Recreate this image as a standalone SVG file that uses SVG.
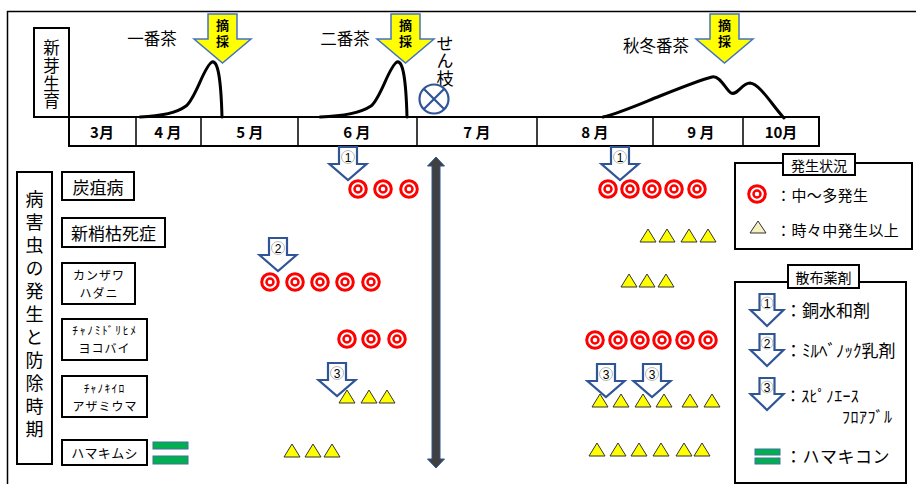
<svg xmlns="http://www.w3.org/2000/svg" xmlns:xlink="http://www.w3.org/1999/xlink" width="916" height="484" viewBox="0 0 916 484">
<style>
text{font-family:"Noto Sans CJK JP","Noto Sans",sans-serif;fill:#000;dominant-baseline:central}
.vt{writing-mode:vertical-rl;text-anchor:middle}
.box{fill:#fff;stroke:#000;stroke-width:2}
.thin{fill:none;stroke:#000;stroke-width:1.5}
.curve{fill:none;stroke:#000;stroke-width:3;stroke-linecap:round}
.yarr{fill:#FFFF00;stroke:#4472C4;stroke-width:1.5}
.barr{fill:#fff;stroke:#2F5597;stroke-width:2.2;stroke-linejoin:miter}
.num{fill:#fff;stroke:#A6A6A6;stroke-width:0.8}
.numt{font-family:"Liberation Sans",sans-serif;font-size:12px;text-anchor:middle}
.mon{font-size:15px;font-weight:bold;text-anchor:middle}
.lab{text-anchor:middle}
.two{font-size:12px;letter-spacing:1px;text-anchor:middle}
.green{fill:#00B050;stroke:#41719C;stroke-width:1}
.tsai{font-size:13px;font-weight:bold;letter-spacing:3px}
</style>
<defs>
<g id="dc"><circle r="8.3" fill="#fff" stroke="#FF0000" stroke-width="3"/><circle r="3.5" fill="#fff" stroke="#FF0000" stroke-width="2.5"/></g>
<polygon id="tri" points="-8,0 0,-13 8,0" fill="#FFFF00" stroke="#333" stroke-width="1"/>
<path id="ba" d="M-9,0 H9 V17 H18.5 L0,33 L-18.5,17 H-9 Z" class="barr"/>
<path id="bal" d="M-7.5,0 H7.5 V16 H16.5 L0,32 L-16.5,16 H-7.5 Z" class="barr"/>
<path id="ya" d="M-14.5,0 H14.5 V25 H28.5 L0,49 L-28.5,25 H-14.5 Z" class="yarr"/>
</defs>
<rect x="0" y="0" width="916" height="484" fill="#fff"/>
<!-- outer frame -->
<rect x="7.5" y="11.5" width="930" height="490" fill="none" stroke="#000" stroke-width="1.5"/>

<!-- growth section -->
<g id="growth-label">
<rect x="34" y="28" width="35" height="89" class="box"/>
<text x="51.5" y="75" font-size="16.5" letter-spacing="1.2" class="vt">新芽生育</text>
</g>
<g id="months">
<rect x="69" y="117" width="750" height="29" class="box"/>
<path d="M136,117V146M201,117V146M298,117V146M417,117V146M537,117V146M653,117V146M743,117V146" class="thin"/>
<text x="102" y="131" class="mon">3月</text>
<text x="168" y="131" class="mon">4 月</text>
<text x="250" y="131" class="mon">5 月</text>
<text x="357" y="131" class="mon">6 月</text>
<text x="477" y="131" class="mon">7 月</text>
<text x="595" y="131" class="mon">8 月</text>
<text x="701" y="131" class="mon">9 月</text>
<text x="781" y="131" class="mon">10月</text>
</g>
<g id="curves">
<path class="curve" d="M140,117 C165,116 178,112 186,106 C196,98 204,66 212,62 C218,60 221,80 222,117"/>
<path class="curve" d="M320,117 C348,116 362,112 371,106 C381,98 389,66 397,62 C403,60 406,80 407,117"/>
<path class="curve" d="M603,117 C620,113 640,104 660,96 C680,88 700,80 712,77 C720,75 726,90 731,93 C737,96 742,83 750,83 C760,84 772,105 784,118"/>
</g>
<g id="ichibancha">
<text x="152" y="38" font-size="16.5" class="lab">一番茶</text>
<use xlink:href="#ya" x="222.5" y="14"/>
<text x="222.5" y="35" class="vt tsai">摘採</text>
</g>
<g id="nibancha">
<text x="345" y="38" font-size="16.5" class="lab">二番茶</text>
<use xlink:href="#ya" x="405.5" y="14"/>
<text x="405.5" y="35" class="vt tsai">摘採</text>
</g>
<g id="shutoubancha">
<text x="656" y="45" font-size="16.5" class="lab">秋冬番茶</text>
<use xlink:href="#ya" x="724.5" y="14"/>
<text x="724.5" y="35" class="vt tsai">摘採</text>
</g>
<g id="sentei">
<text x="445" y="61" font-size="17" letter-spacing="0.6" class="vt">せん枝</text>
<circle cx="434" cy="99" r="14.5" fill="#fff" stroke="#2F5597" stroke-width="2.2"/>
<path d="M423.7,88.7 L444.3,109.3 M444.3,88.7 L423.7,109.3" stroke="#2F5597" stroke-width="2.2"/>
</g>

<!-- pest section -->
<g id="pest-label">
<rect x="17" y="172" width="35" height="292" class="box"/>
<text x="34.5" y="317" font-size="18" letter-spacing="5" class="vt">病害虫の発生と防除時期</text>
</g>
<g id="tansobyo">
<rect x="62" y="172" width="72" height="28" class="box"/>
<text x="98" y="186" font-size="17" class="lab">炭疽病</text>
</g>
<g id="shinshokoshisho">
<rect x="62" y="218" width="103" height="29" class="box"/>
<text x="113.5" y="232" font-size="17" class="lab">新梢枯死症</text>
</g>
<g id="kanzawahadani">
<rect x="62" y="263" width="73" height="41" class="box"/>
<text x="99" y="274.5" class="two">カンザワ</text>
<text x="99" y="292" class="two">ハダニ</text>
</g>
<g id="yokobai">
<rect x="62" y="319" width="85" height="41" class="box"/>
<text x="105" y="330" font-size="11.5" class="lab" letter-spacing="1.7">ﾁｬﾉﾐﾄﾞﾘﾋﾒ</text>
<text x="104.5" y="347.5" class="two" letter-spacing="0.6">ヨコバイ</text>
</g>
<g id="azamiuma">
<rect x="62" y="376" width="85" height="41" class="box"/>
<text x="104.5" y="387.5" font-size="11.5" class="lab" letter-spacing="1.2">ﾁｬﾉｷｲﾛ</text>
<text x="105" y="405" class="two">アザミウマ</text>
</g>
<g id="hamakimushi">
<rect x="62" y="440" width="85" height="25" class="box"/>
<text x="104.5" y="452" font-size="13" class="lab" letter-spacing="0.3">ハマキムシ</text>
<rect x="153" y="442" width="35" height="7" class="green"/>
<rect x="153" y="456" width="35" height="8" class="green"/>
</g>

<!-- spray arrows -->
<g id="spray-arrows">
<use xlink:href="#ba" x="348" y="147"/><circle cx="348" cy="157" r="6.5" class="num"/><text x="348" y="157.5" class="numt">1</text>
<use xlink:href="#ba" x="620" y="147"/><circle cx="620" cy="157" r="6.5" class="num"/><text x="620" y="157.5" class="numt">1</text>
<use xlink:href="#ba" x="278" y="238"/><circle cx="278" cy="248" r="6.5" class="num"/><text x="278" y="248.5" class="numt">2</text>
<use xlink:href="#ba" x="337" y="363"/><circle cx="337" cy="373" r="6.5" class="num"/><text x="337" y="373.5" class="numt">3</text>
<use xlink:href="#ba" x="606" y="364"/><circle cx="606" cy="374" r="6.5" class="num"/><text x="606" y="374.5" class="numt">3</text>
<use xlink:href="#ba" x="652" y="364"/><circle cx="652" cy="374" r="6.5" class="num"/><text x="652" y="374.5" class="numt">3</text>
</g>

<!-- occurrence marks -->
<g id="marks-circles">
<use xlink:href="#dc" x="358" y="189"/><use xlink:href="#dc" x="383" y="189"/><use xlink:href="#dc" x="409" y="189"/>
<use xlink:href="#dc" x="608" y="189"/><use xlink:href="#dc" x="630" y="189"/><use xlink:href="#dc" x="652" y="189"/><use xlink:href="#dc" x="674" y="189"/><use xlink:href="#dc" x="697" y="189"/>
<use xlink:href="#dc" x="270" y="282"/><use xlink:href="#dc" x="295" y="282"/><use xlink:href="#dc" x="320" y="282"/><use xlink:href="#dc" x="345" y="282"/><use xlink:href="#dc" x="371" y="282"/>
<use xlink:href="#dc" x="347" y="339"/><use xlink:href="#dc" x="371" y="339"/><use xlink:href="#dc" x="397" y="339"/>
<use xlink:href="#dc" x="595" y="340"/><use xlink:href="#dc" x="618" y="340"/><use xlink:href="#dc" x="640" y="340"/><use xlink:href="#dc" x="662" y="340"/><use xlink:href="#dc" x="685" y="340"/><use xlink:href="#dc" x="708" y="340"/>
</g>
<g id="marks-triangles">
<use xlink:href="#tri" x="648" y="242"/><use xlink:href="#tri" x="667" y="242"/><use xlink:href="#tri" x="689" y="242"/><use xlink:href="#tri" x="708" y="242"/>
<use xlink:href="#tri" x="629" y="287"/><use xlink:href="#tri" x="647" y="287"/><use xlink:href="#tri" x="666" y="287"/>
<use xlink:href="#tri" x="347" y="403"/><use xlink:href="#tri" x="369" y="403"/><use xlink:href="#tri" x="387" y="403"/>
<use xlink:href="#tri" x="600" y="407"/><use xlink:href="#tri" x="621" y="407"/><use xlink:href="#tri" x="643" y="407"/><use xlink:href="#tri" x="664" y="407"/><use xlink:href="#tri" x="690" y="407"/><use xlink:href="#tri" x="712" y="407"/>
<use xlink:href="#tri" x="292" y="457"/><use xlink:href="#tri" x="313" y="457"/><use xlink:href="#tri" x="332" y="457"/>
<use xlink:href="#tri" x="597" y="456"/><use xlink:href="#tri" x="618" y="456"/><use xlink:href="#tri" x="639" y="456"/><use xlink:href="#tri" x="661" y="456"/><use xlink:href="#tri" x="684" y="456"/><use xlink:href="#tri" x="702" y="456"/>
</g>

<!-- connectors -->
<g id="connectors">
<path d="M436,157 L444.5,166 H440 V459 H444.5 L436,468 L427.5,459 H432 V166 H427.5 Z" fill="#404040" stroke="#2F5597" stroke-width="1"/>
</g>

<!-- legend 1 -->
<g id="legend-status">
<rect x="735" y="163" width="177" height="86" class="box"/>
<rect x="783" y="154" width="72" height="21" class="box"/>
<text x="819" y="165" font-size="14" class="lab">発生状況</text>
<use xlink:href="#dc" x="757" y="194"/>
<text x="776" y="194" font-size="15" letter-spacing="0.4">：中～多発生</text>
<polygon points="750,233 758,221 766,233" fill="#F5F0C0" stroke="#333" stroke-width="1"/>
<text x="776" y="229" font-size="15" letter-spacing="0.4">：時々中発生以上</text>
</g>
<!-- legend 2 -->
<g id="legend-spray">
<rect x="735" y="282" width="171" height="201" class="box"/>
<rect x="788" y="265" width="71" height="23" class="box"/>
<text x="823.5" y="277" font-size="14" class="lab">散布薬剤</text>
<use xlink:href="#bal" x="767" y="294"/><circle cx="767" cy="303" r="6" class="num"/><text x="767" y="303.5" class="numt">1</text>
<text x="785" y="309" font-size="17">：銅水和剤</text>
<use xlink:href="#bal" x="767" y="334"/><circle cx="767" cy="343" r="6" class="num"/><text x="767" y="343.5" class="numt">2</text>
<text x="785" y="349" font-size="17">：ﾐﾙﾍﾞﾉｯｸ乳剤</text>
<use xlink:href="#bal" x="767" y="378"/><circle cx="767" cy="387" r="6" class="num"/><text x="767" y="387.5" class="numt">3</text>
<text x="785" y="395" font-size="16" letter-spacing="0.3">：ｽﾋﾟﾉｴｰｽ</text>
<text x="842" y="416" font-size="16" letter-spacing="0.5">ﾌﾛｱﾌﾞﾙ</text>
<rect x="755" y="449" width="25" height="6" class="green"/>
<rect x="755" y="458" width="25" height="6" class="green"/>
<text x="785" y="455" font-size="17" letter-spacing="0.5">：ハマキコン</text>
</g>
</svg>
